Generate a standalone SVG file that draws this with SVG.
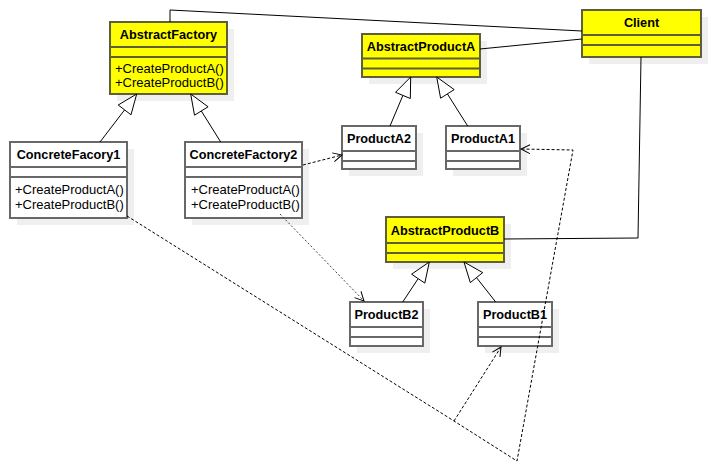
<svg xmlns="http://www.w3.org/2000/svg" width="711" height="473" viewBox="0 0 711 473">
  <style>
    .shadow { fill: #efefef; stroke: none; }
    .box { fill: #ffffff; stroke: #686868; stroke-width: 2; }
    .abstract { fill: #ffff00; stroke: #5e5e3a; stroke-width: 2; }
    .sep { stroke: #686868; stroke-width: 2; }
    .abstract-sep { stroke: #5e5e3a; stroke-width: 2; }
    .title { font-family: "Liberation Sans", Arial, sans-serif; font-size: 12.7px; font-weight: bold; text-anchor: middle; fill: #000; }
    .op { font-family: "Liberation Sans", Arial, sans-serif; font-size: 13px; fill: #000; }
    .assoc { fill: none; stroke: #000; stroke-width: 1; }
    .gen { fill: none; stroke: #000; stroke-width: 1; }
    .gen-head { fill: #fff; stroke: #000; stroke-width: 1; }
    .dep { fill: none; stroke: #000; stroke-width: 1; stroke-dasharray: 3 2; }
    .dep-light { fill: none; stroke: #444; stroke-width: 1; stroke-dasharray: 2 2; }
  </style>
  <defs>
    <marker id="open-arrow" markerUnits="userSpaceOnUse" markerWidth="12" markerHeight="12" refX="9" refY="4.5" orient="auto" overflow="visible">
      <path d="M0,0 L9,4.5 L0,9" fill="none" stroke="#000" stroke-width="1"/>
    </marker>
  </defs>

  <rect width="711" height="473" fill="#ffffff"/>

  <!-- AbstractFactory -->
  <g id="AbstractFactory">
    <rect class="shadow" x="117" y="29" width="117" height="72"/>
    <rect class="abstract" x="110" y="22" width="117" height="72"/>
    <line class="abstract-sep" x1="110" y1="47" x2="227" y2="47"/>
    <line class="abstract-sep" x1="110" y1="57" x2="227" y2="57"/>
    <text class="title" x="168.5" y="39">AbstractFactory</text>
    <text class="op" x="115" y="73">+CreateProductA()</text>
    <text class="op" x="115" y="87">+CreateProductB()</text>
  </g>

  <!-- ConcreteFacory1 -->
  <g id="ConcreteFacory1">
    <rect class="shadow" x="17" y="149" width="117" height="76"/>
    <rect class="box" x="10" y="142" width="117" height="76"/>
    <line class="sep" x1="10" y1="167" x2="127" y2="167"/>
    <line class="sep" x1="10" y1="177" x2="127" y2="177"/>
    <text class="title" x="68.5" y="159">ConcreteFacory1</text>
    <text class="op" x="15" y="194">+CreateProductA()</text>
    <text class="op" x="15" y="209">+CreateProductB()</text>
  </g>

  <!-- ConcreteFactory2 -->
  <g id="ConcreteFactory2">
    <rect class="shadow" x="192" y="149" width="117" height="76"/>
    <rect class="box" x="185" y="142" width="117" height="76"/>
    <line class="sep" x1="185" y1="167" x2="302" y2="167"/>
    <line class="sep" x1="185" y1="177" x2="302" y2="177"/>
    <text class="title" x="243.5" y="159">ConcreteFactory2</text>
    <text class="op" x="191" y="194">+CreateProductA()</text>
    <text class="op" x="191" y="209">+CreateProductB()</text>
  </g>

  <!-- AbstractProductA -->
  <g id="AbstractProductA">
    <rect class="shadow" x="369" y="41" width="118" height="43"/>
    <rect class="abstract" x="362" y="34" width="118" height="43"/>
    <line class="abstract-sep" x1="362" y1="58.5" x2="480" y2="58.5"/>
    <line class="abstract-sep" x1="362" y1="68.5" x2="480" y2="68.5"/>
    <text class="title" x="421" y="51">AbstractProductA</text>
  </g>

  <!-- ProductA2 -->
  <g id="ProductA2">
    <rect class="shadow" x="349" y="133" width="74" height="43"/>
    <rect class="box" x="342" y="126" width="74" height="43"/>
    <line class="sep" x1="342" y1="151" x2="416" y2="151"/>
    <line class="sep" x1="342" y1="161" x2="416" y2="161"/>
    <text class="title" x="379" y="143">ProductA2</text>
  </g>

  <!-- ProductA1 -->
  <g id="ProductA1">
    <rect class="shadow" x="453" y="133" width="74" height="43"/>
    <rect class="box" x="446" y="126" width="74" height="43"/>
    <line class="sep" x1="446" y1="151" x2="520" y2="151"/>
    <line class="sep" x1="446" y1="161" x2="520" y2="161"/>
    <text class="title" x="483" y="143">ProductA1</text>
  </g>

  <!-- Client -->
  <g id="Client">
    <rect class="shadow" x="589" y="17" width="119" height="47"/>
    <rect class="abstract" x="582" y="10" width="119" height="47"/>
    <line class="abstract-sep" x1="582" y1="35" x2="701" y2="35"/>
    <line class="abstract-sep" x1="582" y1="45" x2="701" y2="45"/>
    <text class="title" x="641.5" y="27">Client</text>
  </g>

  <!-- AbstractProductB -->
  <g id="AbstractProductB">
    <rect class="shadow" x="393" y="224" width="118" height="45"/>
    <rect class="abstract" x="386" y="217" width="118" height="45"/>
    <line class="abstract-sep" x1="386" y1="243" x2="504" y2="243"/>
    <line class="abstract-sep" x1="386" y1="253" x2="504" y2="253"/>
    <text class="title" x="445" y="235">AbstractProductB</text>
  </g>

  <!-- ProductB2 -->
  <g id="ProductB2">
    <rect class="shadow" x="357" y="309" width="73" height="44"/>
    <rect class="box" x="350" y="302" width="73" height="44"/>
    <line class="sep" x1="350" y1="327" x2="423" y2="327"/>
    <line class="sep" x1="350" y1="337" x2="423" y2="337"/>
    <text class="title" x="386.5" y="319">ProductB2</text>
  </g>

  <!-- ProductB1 -->
  <g id="ProductB1">
    <rect class="shadow" x="485" y="309" width="74" height="44"/>
    <rect class="box" x="478" y="302" width="74" height="44"/>
    <line class="sep" x1="478" y1="327" x2="552" y2="327"/>
    <line class="sep" x1="478" y1="337" x2="552" y2="337"/>
    <text class="title" x="515" y="319">ProductB1</text>
  </g>

  <!-- connectors, drawn over the class boxes -->
  <g id="connectors">
    <!-- associations with Client -->
    <polyline class="assoc" points="170,22 170,10 582,31"/>
    <line class="assoc" x1="480" y1="49" x2="582" y2="39"/>
    <polyline class="assoc" points="641,57 638,238 504,239"/>

    <!-- generalizations -->
    <line class="gen" x1="100" y1="142" x2="124.6" y2="109.9"/>
    <polygon class="gen-head" points="136.7,94 131,114.8 118.2,105"/>
    <line class="gen" x1="220.7" y1="142" x2="201.3" y2="111"/>
    <polygon class="gen-head" points="190.7,94 208.1,106.8 194.5,115.2"/>
    <line class="gen" x1="390" y1="126" x2="402.9" y2="95.4"/>
    <polygon class="gen-head" points="410.7,77 410.3,98.5 395.5,92.3"/>
    <line class="gen" x1="467.7" y1="126" x2="447.4" y2="93.9"/>
    <polygon class="gen-head" points="436.7,77 454.2,89.6 440.6,98.2"/>
    <line class="gen" x1="402.7" y1="302" x2="418.2" y2="278.6"/>
    <polygon class="gen-head" points="429.3,262 424.8,283.1 411.6,274.2"/>
    <line class="gen" x1="495.7" y1="302" x2="476.5" y2="277.6"/>
    <polygon class="gen-head" points="464,262 482.7,272.6 470.3,282.6"/>

    <!-- dependencies -->
    <line class="dep" x1="303" y1="165" x2="342" y2="155" marker-end="url(#open-arrow)"/>
    <line class="dep-light" x1="280" y1="214" x2="364" y2="301" marker-end="url(#open-arrow)"/>
    <polyline class="dep" points="127,216 454,421 517,461 573,150 521,149" marker-end="url(#open-arrow)"/>
    <line class="dep" x1="454" y1="421" x2="501" y2="347" marker-end="url(#open-arrow)"/>
  </g>
</svg>
